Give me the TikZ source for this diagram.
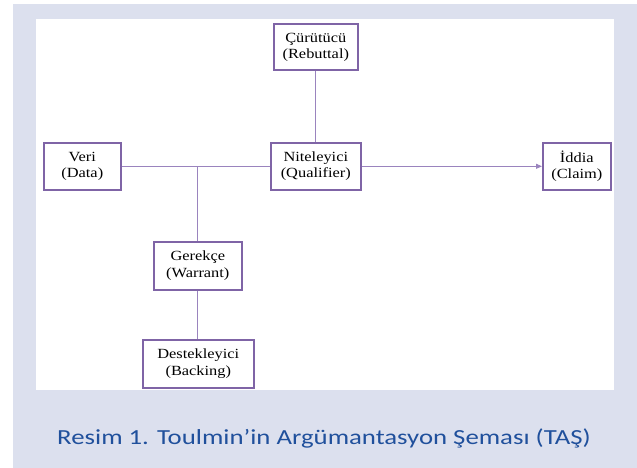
\documentclass[tikz,border=0pt]{standalone}
\usepackage{fontspec}
\setmainfont{Liberation Serif}
\newfontfamily\capfont{Carlito}
\usetikzlibrary{arrows.meta}
\definecolor{panel}{HTML}{DCE0EE}
\definecolor{boxc}{HTML}{7F64A6}
\definecolor{linec}{HTML}{9A84BE}
\definecolor{capc}{HTML}{20509C}
\newcommand\wx[1]{\scalebox{1.17}[1]{#1}}
\tikzset{
  tbox/.style={draw=boxc, line width=1.6pt, fill=white, inner sep=0pt, align=center,
    font=\fontsize{14}{16.5}\selectfont, anchor=north west},
  conn/.style={draw=linec, line width=0.9pt}
}
\begin{document}
\begin{tikzpicture}[x=1pt,y=-1pt]
\useasboundingbox (0,0) rectangle (637,468);
\fill[white] (0,0) rectangle (637,468);
\fill[panel] (12.5,4) rectangle (637,468);
\fill[white] (36,19) rectangle (614,390);
\node[tbox, minimum width=84pt, minimum height=46pt] (reb) at (273,23.5) {\wx{Çürütücü}\\\wx{(Rebuttal)}};
\node[tbox, minimum width=77pt, minimum height=47pt] (data) at (43,142) {\wx{Veri}\\\wx{(Data)}};
\node[tbox, minimum width=90pt, minimum height=47pt] (qual) at (270,142) {\wx{Niteleyici}\\\wx{(Qualifier)}};
\node[tbox, minimum width=68pt, minimum height=47pt] (claim) at (542,142) {\wx{İddia}\\\wx{(Claim)}};
\node[tbox, minimum width=88pt, minimum height=48pt] (war) at (153,241) {\wx{Gerekçe}\\\wx{(Warrant)}};
\node[tbox, minimum width=111pt, minimum height=48pt] (back) at (142,339) {\wx{Destekleyici}\\\wx{(Backing)}};
\coordinate (j) at (war.north |- data.east);
\draw[conn] (data.east) -- (qual.west);
\draw[conn] (j) -- (war.north);
\draw[conn] (war.south) -- (war.south |- back.north);
\draw[conn] (reb.south) -- (qual.north);
\draw[conn, -{Triangle[length=6pt,width=5pt]}] (qual.east) -- (claim.west);
\node[font=\capfont\fontsize{21.5}{24}\selectfont, text=capc, anchor=base] (cap) at (324,444) {\scalebox{1.245}[1]{Resim 1. Toulmin’in Argümantasyon Şeması (TAŞ)}};
\end{tikzpicture}
\end{document}
